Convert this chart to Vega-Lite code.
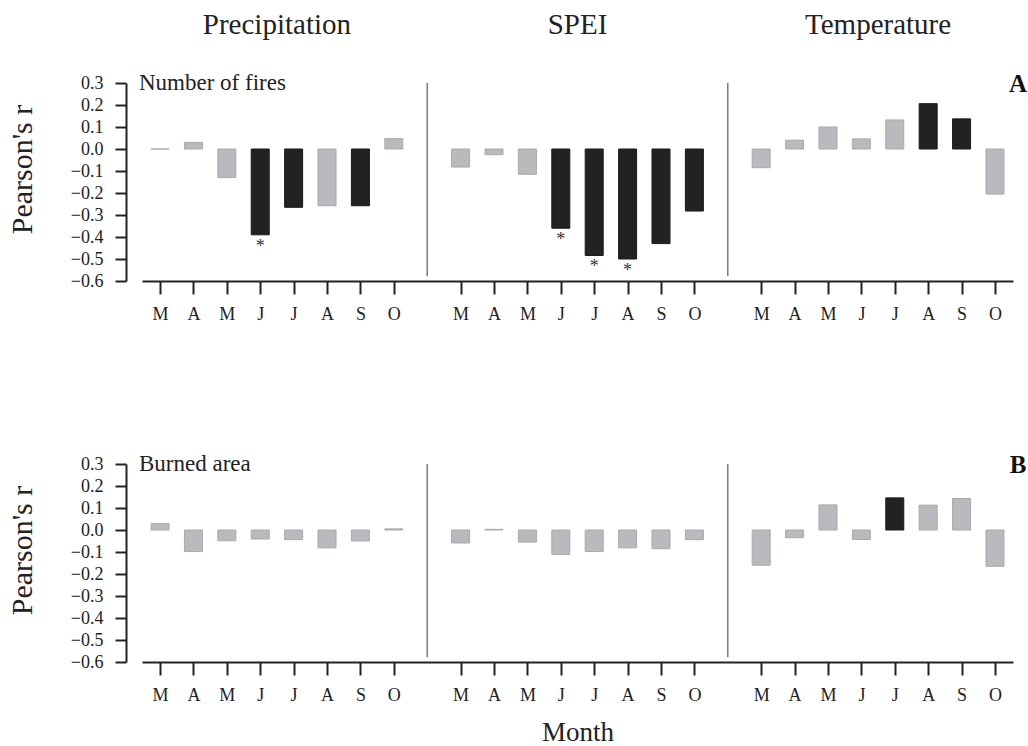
{
  "$schema": "https://vega.github.io/schema/vega-lite/v6.json",
  "padding": {"left": 7, "top": 11, "right": 0, "bottom": 0},
  "background": "white",
  "config": {
    "font": "Liberation Serif",
    "view": {"stroke": null},
    "axis": {"grid": false, "domainColor": "#222", "domainWidth": 2, "tickColor": "#222", "tickWidth": 2, "labelColor": "#222", "titleColor": "#222", "labelFont": "Liberation Serif", "titleFont": "Liberation Serif", "titleFontWeight": "normal", "tickCount": 100, "labelOverlap": false, "labelFlush": false}
  },
  "datasets": {
    "bars": [
      {"p":"A","g":"Precipitation","m":"M","k":0,"r":0.0,"s":0,"a":0},
      {"p":"A","g":"Precipitation","m":"A","k":1,"r":0.03,"s":0,"a":0},
      {"p":"A","g":"Precipitation","m":"M","k":2,"r":-0.13,"s":0,"a":0},
      {"p":"A","g":"Precipitation","m":"J","k":3,"r":-0.39,"s":1,"a":1},
      {"p":"A","g":"Precipitation","m":"J","k":4,"r":-0.265,"s":1,"a":0},
      {"p":"A","g":"Precipitation","m":"A","k":5,"r":-0.258,"s":0,"a":0},
      {"p":"A","g":"Precipitation","m":"S","k":6,"r":-0.258,"s":1,"a":0},
      {"p":"A","g":"Precipitation","m":"O","k":7,"r":0.047,"s":0,"a":0},
      {"p":"A","g":"SPEI","m":"M","k":9,"r":-0.082,"s":0,"a":0},
      {"p":"A","g":"SPEI","m":"A","k":10,"r":-0.026,"s":0,"a":0},
      {"p":"A","g":"SPEI","m":"M","k":11,"r":-0.115,"s":0,"a":0},
      {"p":"A","g":"SPEI","m":"J","k":12,"r":-0.36,"s":1,"a":1},
      {"p":"A","g":"SPEI","m":"J","k":13,"r":-0.484,"s":1,"a":1},
      {"p":"A","g":"SPEI","m":"A","k":14,"r":-0.5,"s":1,"a":1},
      {"p":"A","g":"SPEI","m":"S","k":15,"r":-0.43,"s":1,"a":0},
      {"p":"A","g":"SPEI","m":"O","k":16,"r":-0.282,"s":1,"a":0},
      {"p":"A","g":"Temperature","m":"M","k":18,"r":-0.085,"s":0,"a":0},
      {"p":"A","g":"Temperature","m":"A","k":19,"r":0.04,"s":0,"a":0},
      {"p":"A","g":"Temperature","m":"M","k":20,"r":0.1,"s":0,"a":0},
      {"p":"A","g":"Temperature","m":"J","k":21,"r":0.046,"s":0,"a":0},
      {"p":"A","g":"Temperature","m":"J","k":22,"r":0.132,"s":0,"a":0},
      {"p":"A","g":"Temperature","m":"A","k":23,"r":0.206,"s":1,"a":0},
      {"p":"A","g":"Temperature","m":"S","k":24,"r":0.137,"s":1,"a":0},
      {"p":"A","g":"Temperature","m":"O","k":25,"r":-0.205,"s":0,"a":0},
      {"p":"B","g":"Precipitation","m":"M","k":0,"r":0.029,"s":0,"a":0},
      {"p":"B","g":"Precipitation","m":"A","k":1,"r":-0.098,"s":0,"a":0},
      {"p":"B","g":"Precipitation","m":"M","k":2,"r":-0.049,"s":0,"a":0},
      {"p":"B","g":"Precipitation","m":"J","k":3,"r":-0.041,"s":0,"a":0},
      {"p":"B","g":"Precipitation","m":"J","k":4,"r":-0.044,"s":0,"a":0},
      {"p":"B","g":"Precipitation","m":"A","k":5,"r":-0.081,"s":0,"a":0},
      {"p":"B","g":"Precipitation","m":"S","k":6,"r":-0.05,"s":0,"a":0},
      {"p":"B","g":"Precipitation","m":"O","k":7,"r":0.005,"s":0,"a":0},
      {"p":"B","g":"SPEI","m":"M","k":9,"r":-0.059,"s":0,"a":0},
      {"p":"B","g":"SPEI","m":"A","k":10,"r":0.003,"s":0,"a":0},
      {"p":"B","g":"SPEI","m":"M","k":11,"r":-0.055,"s":0,"a":0},
      {"p":"B","g":"SPEI","m":"J","k":12,"r":-0.111,"s":0,"a":0},
      {"p":"B","g":"SPEI","m":"J","k":13,"r":-0.098,"s":0,"a":0},
      {"p":"B","g":"SPEI","m":"A","k":14,"r":-0.081,"s":0,"a":0},
      {"p":"B","g":"SPEI","m":"S","k":15,"r":-0.085,"s":0,"a":0},
      {"p":"B","g":"SPEI","m":"O","k":16,"r":-0.044,"s":0,"a":0},
      {"p":"B","g":"Temperature","m":"M","k":18,"r":-0.16,"s":0,"a":0},
      {"p":"B","g":"Temperature","m":"A","k":19,"r":-0.035,"s":0,"a":0},
      {"p":"B","g":"Temperature","m":"M","k":20,"r":0.114,"s":0,"a":0},
      {"p":"B","g":"Temperature","m":"J","k":21,"r":-0.043,"s":0,"a":0},
      {"p":"B","g":"Temperature","m":"J","k":22,"r":0.146,"s":1,"a":0},
      {"p":"B","g":"Temperature","m":"A","k":23,"r":0.113,"s":0,"a":0},
      {"p":"B","g":"Temperature","m":"S","k":24,"r":0.143,"s":0,"a":0},
      {"p":"B","g":"Temperature","m":"O","k":25,"r":-0.165,"s":0,"a":0}
    ],
    "seps": [{"k": 8, "top": 0.3, "bot": -0.578}, {"k": 17, "top": 0.3, "bot": -0.578}],
    "heads": [
      {"k": 3.5, "t": "Precipitation", "top": 0.3},
      {"k": 12.5, "t": "SPEI", "top": 0.3},
      {"k": 21.5, "t": "Temperature", "top": 0.3}
    ],
    "labsA": [{"k": -0.63, "t": "Number of fires", "top": 0.3, "letter": "A", "kl": 25.69}],
    "labsB": [{"k": -0.63, "t": "Burned area", "top": 0.3, "letter": "B", "kl": 25.69}]
  },
  "bounds": "flush",
  "spacing": 183,
  "vconcat": [
    {
      "width": 871,
      "height": 198,
      "layer": [
        {
          "data": {"name": "bars"},
          "transform": [{"filter": "datum.p == 'A'"}],
          "mark": {"type": "bar", "size": 18, "strokeWidth": 1},
          "encoding": {
            "x": {"field": "k", "type": "quantitative", "scale": {"domain": [-0.54, 25.54], "nice": false, "zero": false, "padding": 0},
              "axis": {"values": [0,1,2,3,4,5,6,7,9,10,11,12,13,14,15,16,18,19,20,21,22,23,24,25], "tickCount": 100, "labelExpr": "['M','A','M','J','J','A','S','O'][datum.value % 9]", "tickSize": 13, "labelPadding": 11, "labelFontSize": 18, "title": null, "labelFlush": false, "labelOverlap": false}},
            "y": {"field": "r", "type": "quantitative", "scale": {"domain": [-0.6, 0.3], "nice": false, "zero": false},
              "axis": {"values": [-0.6,-0.5,-0.4,-0.3,-0.2,-0.1,0,0.1,0.2,0.3], "tickCount": 100, "format": ".1f", "offset": 16, "tickSize": 11, "labelPadding": 12, "labelFontSize": 18, "labelOverlap": false, "labelFlush": false, "title": "Pearson's r", "titleFontSize": 30, "titlePadding": 33, "titleY": 86}},
            "y2": {"datum": 0},
            "color": {"field": "s", "type": "nominal", "scale": {"domain": [0, 1], "range": ["#b9babd", "#222222"]}, "legend": null},
            "stroke": {"field": "s", "type": "nominal", "scale": {"domain": [0, 1], "range": ["#a8a9ac", "#1a1a1a"]}, "legend": null}
          }
        },
        {
          "data": {"name": "bars"},
          "transform": [{"filter": "datum.p == 'A' && datum.a == 1"}],
          "mark": {"type": "text", "text": "*", "fontSize": 18, "baseline": "top", "dy": 3, "color": "#333"},
          "encoding": {"x": {"field": "k", "type": "quantitative"}, "y": {"field": "r", "type": "quantitative"}}
        },
        {
          "data": {"name": "seps"},
          "mark": {"type": "rule", "color": "#7a7a7a", "strokeWidth": 1.5},
          "encoding": {"x": {"field": "k", "type": "quantitative"}, "y": {"field": "top", "type": "quantitative"}, "y2": {"field": "bot"}}
        },
        {
          "mark": {"type": "rule", "color": "#2a2a2a", "strokeWidth": 2},
          "encoding": {"y": {"datum": 0, "type": "quantitative"}}
        },
        {
          "data": {"name": "heads"},
          "mark": {"type": "text", "fontSize": 29, "baseline": "alphabetic", "dy": -49, "color": "#222"},
          "encoding": {"x": {"field": "k", "type": "quantitative"}, "y": {"field": "top", "type": "quantitative"}, "text": {"field": "t"}}
        },
        {
          "data": {"name": "labsA"},
          "mark": {"type": "text", "fontSize": 23, "align": "left", "baseline": "alphabetic", "dy": 7, "color": "#222"},
          "encoding": {"x": {"field": "k", "type": "quantitative"}, "y": {"field": "top", "type": "quantitative"}, "text": {"field": "t"}}
        },
        {
          "data": {"name": "labsA"},
          "mark": {"type": "text", "fontSize": 25, "fontWeight": "bold", "align": "center", "baseline": "alphabetic", "dy": 9, "color": "#111"},
          "encoding": {"x": {"field": "kl", "type": "quantitative"}, "y": {"field": "top", "type": "quantitative"}, "text": {"field": "letter"}}
        }
      ]
    },
    {
      "width": 871,
      "height": 198,
      "layer": [
        {
          "data": {"name": "bars"},
          "transform": [{"filter": "datum.p == 'B'"}],
          "mark": {"type": "bar", "size": 18, "strokeWidth": 1},
          "encoding": {
            "x": {"field": "k", "type": "quantitative", "scale": {"domain": [-0.54, 25.54], "nice": false, "zero": false, "padding": 0},
              "axis": {"values": [0,1,2,3,4,5,6,7,9,10,11,12,13,14,15,16,18,19,20,21,22,23,24,25], "tickCount": 100, "labelExpr": "['M','A','M','J','J','A','S','O'][datum.value % 9]", "tickSize": 13, "labelPadding": 11, "labelFontSize": 18, "title": "Month", "titleFontSize": 27, "titlePadding": 15, "labelFlush": false, "labelOverlap": false}},
            "y": {"field": "r", "type": "quantitative", "scale": {"domain": [-0.6, 0.3], "nice": false, "zero": false},
              "axis": {"values": [-0.6,-0.5,-0.4,-0.3,-0.2,-0.1,0,0.1,0.2,0.3], "tickCount": 100, "format": ".1f", "offset": 16, "tickSize": 11, "labelPadding": 12, "labelFontSize": 18, "labelOverlap": false, "labelFlush": false, "title": "Pearson's r", "titleFontSize": 30, "titlePadding": 33, "titleY": 86}},
            "y2": {"datum": 0},
            "color": {"field": "s", "type": "nominal", "scale": {"domain": [0, 1], "range": ["#b9babd", "#222222"]}, "legend": null},
            "stroke": {"field": "s", "type": "nominal", "scale": {"domain": [0, 1], "range": ["#a8a9ac", "#1a1a1a"]}, "legend": null}
          }
        },
        {
          "data": {"name": "seps"},
          "mark": {"type": "rule", "color": "#7a7a7a", "strokeWidth": 1.5},
          "encoding": {"x": {"field": "k", "type": "quantitative"}, "y": {"field": "top", "type": "quantitative"}, "y2": {"field": "bot"}}
        },
        {
          "mark": {"type": "rule", "color": "#2a2a2a", "strokeWidth": 2},
          "encoding": {"y": {"datum": 0, "type": "quantitative"}}
        },
        {
          "data": {"name": "labsB"},
          "mark": {"type": "text", "fontSize": 23, "align": "left", "baseline": "alphabetic", "dy": 7, "color": "#222"},
          "encoding": {"x": {"field": "k", "type": "quantitative"}, "y": {"field": "top", "type": "quantitative"}, "text": {"field": "t"}}
        },
        {
          "data": {"name": "labsB"},
          "mark": {"type": "text", "fontSize": 25, "fontWeight": "bold", "align": "center", "baseline": "alphabetic", "dy": 9, "color": "#111"},
          "encoding": {"x": {"field": "kl", "type": "quantitative"}, "y": {"field": "top", "type": "quantitative"}, "text": {"field": "letter"}}
        }
      ]
    }
  ]
}
